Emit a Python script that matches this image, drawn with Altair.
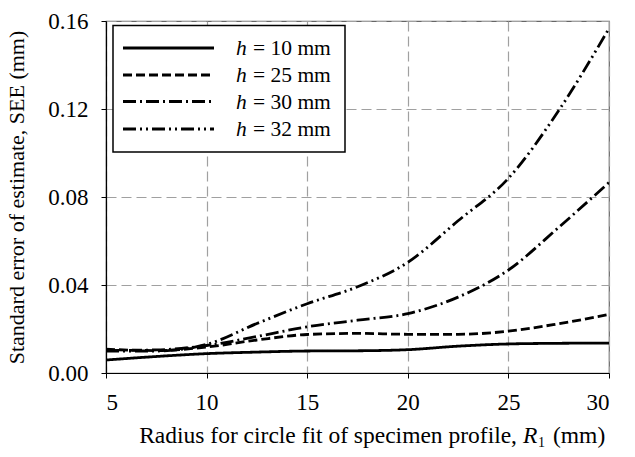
import altair as alt
import pandas as pd

# ---- data ----
radius = [5, 7.5, 10, 12.5, 15, 17.5, 20, 22.5, 25, 27.5, 30]
see_h10 = [0.0059, 0.0075, 0.0088, 0.0095, 0.0100, 0.0101, 0.0106, 0.0122, 0.0132, 0.0135, 0.0136]
see_h25 = [0.0108, 0.0102, 0.0118, 0.0150, 0.0175, 0.0180, 0.0176, 0.0176, 0.0190, 0.0224, 0.0266]
see_h30 = [0.0102, 0.0105, 0.0125, 0.0166, 0.0210, 0.0240, 0.0270, 0.0345, 0.0468, 0.0662, 0.0866]
see_h32 = [0.0100, 0.0100, 0.0130, 0.0225, 0.0315, 0.0392, 0.0503, 0.0692, 0.0885, 0.1193, 0.1566]
series_names = ["h = 10 mm", "h = 25 mm", "h = 30 mm", "h = 32 mm"]
series_labels = ["= 10 mm", "= 25 mm", "= 30 mm", "= 32 mm"]
x_ticks = [5, 10, 15, 20, 25, 30]
y_ticks = [0.00, 0.04, 0.08, 0.12, 0.16]

dashes = [[1, 0], [9, 4], [13, 4, 2, 4], [13, 4, 2, 4, 2, 4]]

rows = []
for name, vals in zip(series_names, [see_h10, see_h25, see_h30, see_h32]):
    for r, v in zip(radius, vals):
        rows.append({"r": r, "see": v, "series": name})
df = pd.DataFrame(rows)

FONT = "Liberation Serif"
W, H = 503, 352
TICK_FS = 23
YTITLE_FS = 22
XTITLE_FS = 23.5
LEG_FS = 21.5

lines = alt.Chart(df).mark_line(strokeWidth=2.8, color="black", interpolate="monotone", clip=True).encode(
    x=alt.X("r:Q", scale=alt.Scale(domain=[5, 30], nice=False),
            axis=alt.Axis(values=x_ticks, title=None, format="d")),
    y=alt.Y("see:Q", scale=alt.Scale(domain=[0, 0.16], nice=False),
            axis=alt.Axis(values=y_ticks, format=".2f",
                          title="Standard error of estimate, SEE (mm)",
                          titleFontSize=YTITLE_FS,
                          titleX=-78, titleY=H / 2, titleAngle=270,
                          titleBaseline="bottom", titleAlign="center")),
    strokeDash=alt.StrokeDash("series:N", scale=alt.Scale(domain=series_names, range=dashes), legend=None),
    detail="series:N",
)

layers = [lines]

def one(chart_mark, name="h = 10 mm"):
    return chart_mark.transform_filter(f"datum.r == 5 && datum.series == '{name}'")

# legend box
layers.append(one(
    alt.Chart(df).mark_rect(fill="white", stroke="black", strokeWidth=1.5).encode(
        x=alt.value(7), x2=alt.value(239), y=alt.value(4.5), y2=alt.value(131)
    )))
row_y = [27, 54, 80.5, 108]
for i, name in enumerate(series_names):
    layers.append(one(
        alt.Chart(df).mark_rule(color="black", strokeWidth=2.8, strokeDash=dashes[i]).encode(
            x=alt.value(17), x2=alt.value(108), y=alt.value(row_y[i])
        ), name))
    layers.append(one(
        alt.Chart(df).mark_text(text="h", font=FONT, fontSize=LEG_FS, fontStyle="italic",
                                align="left", baseline="middle", color="black").encode(
            x=alt.value(130), y=alt.value(row_y[i] + 1)
        ), name))
    layers.append(one(
        alt.Chart(df).mark_text(text=series_labels[i], font=FONT, fontSize=LEG_FS,
                                align="left", baseline="middle", color="black").encode(
            x=alt.value(147), y=alt.value(row_y[i] + 1)
        ), name))

# x-axis title with italic R and subscript 1
TY = 422
layers.append(one(alt.Chart(df).mark_text(
    text="Radius for circle fit of specimen profile,", font=FONT, fontSize=XTITLE_FS,
    align="right", baseline="alphabetic", color="black").encode(x=alt.value(411), y=alt.value(TY))))
layers.append(one(alt.Chart(df).mark_text(
    text="R", font=FONT, fontSize=XTITLE_FS, fontStyle="italic",
    align="left", baseline="alphabetic", color="black").encode(x=alt.value(417), y=alt.value(TY))))
layers.append(one(alt.Chart(df).mark_text(
    text="1", font=FONT, fontSize=14,
    align="left", baseline="alphabetic", color="black").encode(x=alt.value(432), y=alt.value(TY + 4))))
layers.append(one(alt.Chart(df).mark_text(
    text="(mm)", font=FONT, fontSize=XTITLE_FS,
    align="left", baseline="alphabetic", color="black").encode(x=alt.value(447), y=alt.value(TY))))

chart = alt.layer(*layers).properties(
    width=W, height=H,
    padding={"left": 106, "top": 21, "right": 26, "bottom": 84},
    autosize=alt.AutoSizeParams(type="none"),
    background="white",
).configure_view(
    stroke="#666666", strokeWidth=1.2
).configure_axis(
    labelFont=FONT, labelFontSize=TICK_FS, labelColor="black",
    titleFont=FONT, titleColor="black", titleFontWeight="normal",
    domainColor="black", domainWidth=1.2,
    tickColor="black", tickSize=5,
    grid=True, gridColor="#a0a0a0", gridDash=[10, 5], gridWidth=1.2,
).configure_axisX(
    labelPadding=13
).configure_axisY(
    labelPadding=13
)

chart.save("out.html", embed_options={"renderer": "svg", "actions": False})
